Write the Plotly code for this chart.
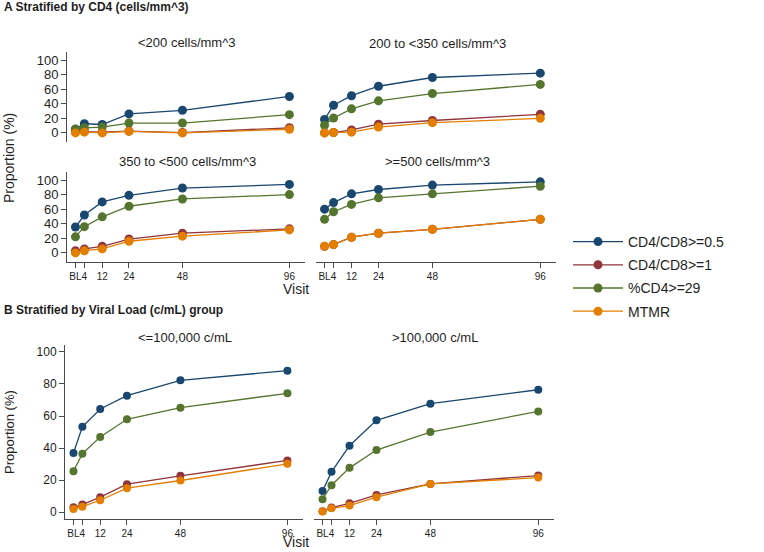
import plotly.graph_objects as go

W, H = 764, 552

weeks = [0, 4, 12, 24, 48, 96]
week_labels = ["BL", "4", "12", "24", "48", "96"]
series_names = ["CD4/CD8>=0.5", "CD4/CD8>=1", "%CD4>=29", "MTMR"]
series_colors = ["#1a476f", "#90353b", "#55752f", "#e37e00"]

# Panel A: stratified by CD4
cd4_lt200 = {
    "CD4/CD8>=0.5": [5, 12.5, 11.5, 26, 31, 50],
    "CD4/CD8>=1": [2, 2, 1, 2.5, 0.5, 7],
    "%CD4>=29": [5.5, 7, 8, 13.5, 13.5, 25],
    "MTMR": [0, 1, 0, 2, 0, 5],
}
cd4_200_350 = {
    "CD4/CD8>=0.5": [18.5, 38, 51, 64, 76, 82],
    "CD4/CD8>=1": [0, 0.5, 4, 12, 17, 25.5],
    "%CD4>=29": [10.5, 20.5, 33, 44, 54, 66.5],
    "MTMR": [0, 0.5, 1, 8, 14, 20],
}
cd4_350_500 = {
    "CD4/CD8>=0.5": [35.5, 52, 70, 79, 89, 94],
    "CD4/CD8>=1": [3, 5.5, 9, 19, 27, 33],
    "%CD4>=29": [22, 36, 49.5, 64, 74, 80],
    "MTMR": [0, 3, 5.5, 16, 23, 31.5],
}
cd4_ge500 = {
    "CD4/CD8>=0.5": [60, 69, 81, 87, 93, 97.5],
    "CD4/CD8>=1": [9, 11.4, 21.5, 27, 32.4, 46],
    "%CD4>=29": [46, 56.5, 66.5, 75.5, 81, 91.5],
    "MTMR": [9, 11.4, 21.5, 27, 32.4, 46],
}
# Panel B: stratified by viral load
vl_le100k = {
    "CD4/CD8>=0.5": [37, 53.3, 64.4, 72.7, 82.3, 88.3],
    "CD4/CD8>=1": [3.1, 4.8, 9.4, 17.5, 22.7, 32.3],
    "%CD4>=29": [25.6, 36.5, 47, 58, 65.2, 74.2],
    "MTMR": [2.1, 3.5, 7.5, 15, 19.8, 30.2],
}
vl_gt100k = {
    "CD4/CD8>=0.5": [13.3, 25.2, 41.5, 57.3, 67.7, 76.4],
    "CD4/CD8>=1": [0.6, 2.9, 5.6, 10.8, 17.7, 22.9],
    "%CD4>=29": [8.1, 16.9, 27.7, 38.8, 50, 62.9],
    "MTMR": [0.4, 2.5, 4.2, 9.4, 17.7, 21.6],
}

panel_titles = ["<200 cells/mm^3", "200 to <350 cells/mm^3",
                "350 to <500 cells/mm^3", ">=500 cells/mm^3",
                "<=100,000 c/mL", ">100,000 c/mL"]
panel_data = [cd4_lt200, cd4_200_350, cd4_350_500, cd4_ge500, vl_le100k, vl_gt100k]

FONT = "Liberation Sans, Arial, sans-serif"
TXT = "#1e1e1e"
AX = "#4a4a4a"

def px_x(x):
    return x / W

def px_y(y):
    return 1 - y / H

# pixel geometry of plot areas: (left, right, top, bottom)
geom = [
    (67, 305, 52, 142),
    (316, 556, 52, 142),
    (67, 305, 172, 262),
    (316, 556, 172, 262),
    (65, 303, 345, 519),
    (314, 554, 345, 519),
]

fig = go.Figure()
layout = {}
for i, (data, (l, r, t, b)) in enumerate(zip(panel_data, geom)):
    n = i + 1
    xa = "x" if n == 1 else f"x{n}"
    ya = "y" if n == 1 else f"y{n}"
    msize = 9 if i < 4 else 8
    for name, col in zip(series_names, series_colors):
        fig.add_trace(go.Scatter(
            x=weeks, y=data[name], mode="lines+markers", name=name,
            line=dict(color=col, width=1.3),
            marker=dict(color=col, size=msize),
            xaxis=xa, yaxis=ya, showlegend=(i == 0), legendgroup=name,
            cliponaxis=False,
        ))
    is_left = (i % 2 == 0)
    show_x = i >= 2
    is_B = i >= 4
    yr = [-4.2, 104.3] if is_B else [-12.5, 111]
    layout[f"xaxis{'' if n == 1 else n}"] = dict(
        domain=[px_x(l), px_x(r)], range=[-3.8, 103], anchor=ya,
        tickvals=weeks, ticktext=week_labels, tickangle=0,
        showline=show_x, linecolor=AX, linewidth=1,
        ticks="outside" if show_x else "", ticklen=5, tickcolor=AX,
        showticklabels=show_x, tickfont=dict(size=10, color=TXT, family=FONT),
        showgrid=False, zeroline=False, fixedrange=True,
    )
    layout[f"yaxis{'' if n == 1 else n}"] = dict(
        domain=[px_y(b), px_y(t)], range=yr, anchor=xa,
        tickvals=[0, 20, 40, 60, 80, 100],
        showline=is_left, linecolor=AX, linewidth=1,
        ticks="outside" if is_left else "", ticklen=5, tickcolor=AX,
        showticklabels=is_left,
        tickfont=dict(size=13 if not is_B else 12, color=TXT, family=FONT),
        showgrid=False, zeroline=False, fixedrange=True,
    )

annotations = []

def ann(text, x, y, size, xanchor="center", angle=0, yanchor="middle"):
    annotations.append(dict(text=text, x=px_x(x), y=px_y(y), xref="paper", yref="paper",
                            xanchor=xanchor, yanchor=yanchor, textangle=angle,
                            showarrow=False, font=dict(size=size, color=TXT, family=FONT)))

# section titles
ann("<b>A Stratified by CD4 (cells/mm^3)</b>", 2, 7, 12, xanchor="left")
ann("<b>B Stratified by Viral Load (c/mL) group</b>", 2, 310, 12, xanchor="left")
# panel titles
title_pos = [(187, 42), (437, 43), (187, 162), (437, 162), (185, 337), (435, 337)]
for txt, (cx, cy) in zip(panel_titles, title_pos):
    ann(txt, cx, cy, 13)
# axis titles
ann("Visit", 296, 289, 14)
ann("Visit", 296, 552, 14, yanchor="bottom")
ann("Proportion (%)", 9, 158, 14, angle=-90)
ann("Proportion (%)", 9, 432, 13, angle=-90)

fig.update_layout(
    width=W, height=H,
    margin=dict(l=0, r=0, t=0, b=0),
    paper_bgcolor="white", plot_bgcolor="white",
    font=dict(family=FONT, color=TXT),
    annotations=annotations,
    legend=dict(x=px_x(568), y=px_y(226), xanchor="left", yanchor="top",
                font=dict(size=14, color=TXT, family=FONT),
                bgcolor="rgba(0,0,0,0)", itemwidth=50, tracegroupgap=2),
    **layout,
)

fig.write_html("out.html",
               config={"displayModeBar": False},
               post_script="document.body.style.margin='0';document.body.style.overflow='hidden';")
